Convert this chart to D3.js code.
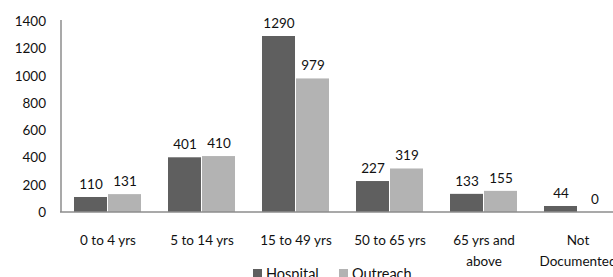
<!DOCTYPE html>
<html>
<head>
<meta charset="utf-8">
<script src="https://cdn.jsdelivr.net/npm/d3@7"></script>
<style>
  body { margin: 0; background: #fff; }
  svg text { font-family: Lato, "Open Sans", sans-serif; fill: #111; }
</style>
</head>
<body>
<svg id="chart" width="613" height="277"></svg>
<script>
const categories = ["0 to 4 yrs", "5 to 14 yrs", "15 to 49 yrs", "50 to 65 yrs", "65 yrs and above", "Not Documented"];
const catLines = [["0 to 4 yrs"], ["5 to 14 yrs"], ["15 to 49 yrs"], ["50 to 65 yrs"], ["65 yrs and", "above"], ["Not", "Documented"]];
const seriesNames = ["Hospital", "Outreach"];
const hospital = [110, 401, 1290, 227, 133, 44];
const outreach = [131, 410, 979, 319, 155, 0];
const yTicks = [0, 200, 400, 600, 800, 1000, 1200, 1400];
const colors = ["#5f5f5f", "#b3b3b3"];

const svg = d3.select("#chart");

// scales
const x = d3.scaleBand().domain(categories).range([61, 625]).padding(0);
const xs = d3.scaleBand().domain(seriesNames).range([13, x.bandwidth() - 13]).padding(0);
const y = d3.scaleLinear().domain([0, 1400]).range([212, 21]);

// y axis labels
svg.append("g").selectAll("text")
  .data(yTicks).enter().append("text")
  .attr("x", 46)
  .attr("y", d => y(d) + 5)
  .attr("text-anchor", "end")
  .style("font-size", "13.5px")
  .text(d => d);

// bars
const table = categories.map((c, i) => ({ cat: c, vals: [hospital[i], outreach[i]] }));
const groups = svg.append("g").selectAll("g")
  .data(table).enter().append("g")
  .attr("transform", d => `translate(${x(d.cat)},0)`);

groups.selectAll("rect")
  .data(d => d.vals.map((v, j) => ({ name: seriesNames[j], v: v })))
  .enter().append("rect")
  .attr("x", d => xs(d.name))
  .attr("y", d => y(d.v))
  .attr("width", xs.bandwidth() - 1)
  .attr("height", d => y(0) - y(d.v))
  .attr("fill", (d, j) => colors[j]);

groups.selectAll("text.val")
  .data(d => d.vals.map((v, j) => ({ name: seriesNames[j], v: v })))
  .enter().append("text")
  .attr("class", "val")
  .attr("x", d => xs(d.name) + xs.bandwidth() / 2)
  .attr("y", d => y(d.v) - 8)
  .attr("text-anchor", "middle")
  .style("font-size", "13.5px")
  .text(d => d.v);

// axes lines
svg.append("line")
  .attr("x1", 61).attr("x2", 61)
  .attr("y1", 20).attr("y2", 212)
  .attr("stroke", "#8c8c8c").attr("stroke-width", 1.5);
svg.append("line")
  .attr("x1", 60).attr("x2", 625)
  .attr("y1", 212).attr("y2", 212)
  .attr("stroke", "#8c8c8c").attr("stroke-width", 1.5);

// category labels
const xl = svg.append("g").selectAll("text")
  .data(categories).enter().append("text")
  .attr("x", d => x(d) + x.bandwidth() / 2)
  .attr("y", 245)
  .attr("text-anchor", "middle")
  .style("font-size", "13.5px");
xl.selectAll("tspan")
  .data((d, i) => catLines[i])
  .enter().append("tspan")
  .attr("x", function () { return d3.select(this.parentNode).attr("x"); })
  .attr("dy", (d, i) => i === 0 ? 0 : 21)
  .text(d => d);

// legend
const legend = svg.append("g").attr("transform", "translate(253,269)");
const li = legend.selectAll("g").data(seriesNames).enter().append("g")
  .attr("transform", (d, i) => `translate(${i * 86},0)`);
li.append("rect").attr("width", 9).attr("height", 9).attr("fill", (d, i) => colors[i]);
li.append("text").attr("x", 13).attr("y", 10).style("font-size", "14.5px").text(d => d);
</script>
</body>
</html>
